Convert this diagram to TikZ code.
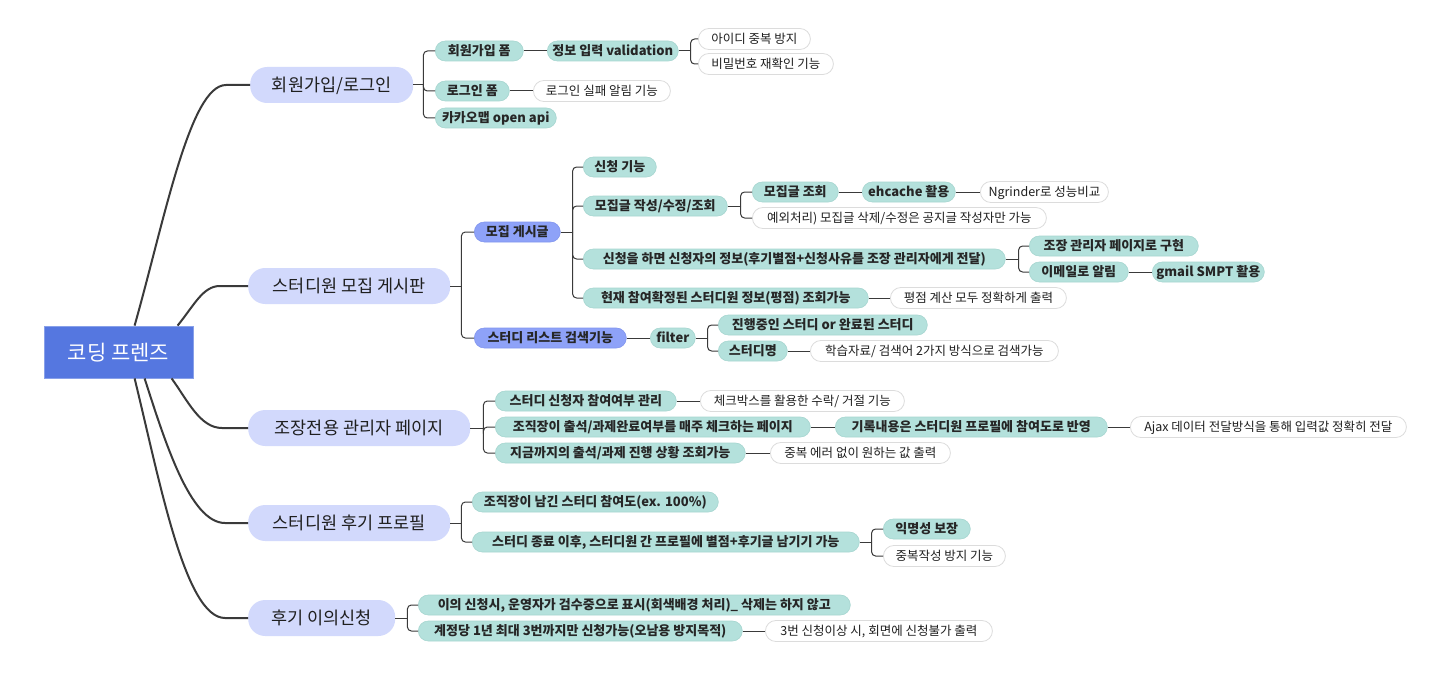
\documentclass[tikz,border=0pt]{standalone}
\usepackage{fontspec}
\setmainfont{Noto Sans CJK KR}
\usetikzlibrary{calc}
\definecolor{rootblue}{HTML}{5577E0}
\definecolor{lav}{HTML}{D2D9FC}
\definecolor{tealc}{HTML}{B4E1DC}
\definecolor{tealb}{HTML}{A6D6D0}
\definecolor{bluec}{HTML}{8EA2F8}
\definecolor{blueb}{HTML}{8296EE}
\definecolor{grayb}{HTML}{DCDCDC}
\definecolor{linec}{HTML}{3A3A3A}
\tikzset{
  base/.style={inner sep=0pt, anchor=west},
  rootbox/.style={fill=rootblue, draw=rootblue!70!white, line width=0.8pt, minimum width=149pt, minimum height=52pt, inner sep=0pt, text=white, font=\fontsize{21}{23}\selectfont, text height=18.5pt, text depth=2.5pt},
  lone/.style={base, fill=lav, rounded corners=17pt, minimum height=36pt, font=\fontsize{17.5}{19}\selectfont, text=black!88, text height=15.4pt, text depth=2.1pt},
  tnode/.style={base, fill=tealc, draw=tealb, line width=0.6pt, rounded corners=10pt, minimum height=20pt, font=\bfseries\fontsize{13}{15}\selectfont, text=black!85, text height=11.4pt, text depth=1.6pt},
  bnode/.style={tnode, fill=bluec, draw=blueb},
  wnode/.style={base, fill=white, draw=grayb, line width=0.8pt, rounded corners=10.5pt, minimum height=21pt, font=\fontsize{12.5}{14}\selectfont, text=black!88, text height=11pt, text depth=1.5pt},
  conn/.style={draw=linec, line width=1pt},
  branch/.style={draw=linec, line width=1pt, rounded corners=4pt},
  trunk/.style={draw=linec, line width=2pt},
}
\begin{document}
\begin{tikzpicture}[x=1pt,y=-1pt]
\useasboundingbox[fill=white] (0,0) rectangle (1434,682);

% root
\node[rootbox] (root) at (118.5,352) {코딩 프렌즈};

% level 1
\node[lone, minimum width=163pt] (n1) at (250,85) {회원가입/로그인};
\node[lone, minimum width=202pt] (n2) at (248,286) {스터디원 모집 게시판};
\node[lone, minimum width=222pt] (n3) at (248,428) {조장전용 관리자 페이지};
\node[lone, minimum width=202pt] (n4) at (248,523) {스터디원 후기 프로필};
\node[lone, minimum width=147pt] (n5) at (248,618) {후기 이의신청};

% group 1
\node[tnode, minimum width=88pt] (a1) at (435,51) {회원가입 폼};
\node[tnode, minimum width=74pt] (a2) at (435,91) {로그인 폼};
\node[tnode, minimum width=121pt] (a3) at (435,118) {카카오맵 open api};
\node[tnode, minimum width=131pt] (a11) at (547,51) {정보 입력 validation};
\node[wnode, minimum width=112pt] (a111) at (698,39) {아이디 중복 방지};
\node[wnode, minimum width=135pt] (a112) at (698,64) {비밀번호 재확인 기능};
\node[wnode, minimum width=137pt] (a21) at (533,91) {로그인 실패 알림 기능};

% group 2
\node[bnode, minimum width=86pt] (b1) at (474,232) {모집 게시글};
\node[bnode, minimum width=152pt] (b2) at (474,338) {스터디 리스트 검색기능};
\node[tnode, minimum width=73pt] (b11) at (583,167) {신청 기능};
\node[tnode, minimum width=144pt] (b12) at (583,206) {모집글 작성/수정/조회};
\node[tnode, minimum width=422pt] (b13) at (583,259) {신청을 하면 신청자의 정보(후기별점+신청사유를 조장 관리자에게 전달)};
\node[tnode, minimum width=285pt] (b14) at (583,298) {현재 참여확정된 스터디원 정보(평점) 조회가능};
\node[tnode, minimum width=86pt] (b121) at (752,192) {모집글 조회};
\node[wnode, minimum width=294pt] (b122) at (752,218) {예외처리) 모집글 삭제/수정은 공지글 작성자만 가능};
\node[tnode, minimum width=93pt] (b1211) at (862,192) {ehcache 활용};
\node[wnode, minimum width=128pt] (b12111) at (980,192) {Ngrinder로 성능비교};
\node[tnode, minimum width=169pt] (b131) at (1029,246) {조장 관리자 페이지로 구현};
\node[tnode, minimum width=99pt] (b132) at (1029,272) {이메일로 알림};
\node[tnode, minimum width=112pt] (b1321) at (1152,272) {gmail SMPT 활용};
\node[wnode, minimum width=176pt] (b141) at (890,298) {평점 계산 모두 정확하게 출력};
\node[tnode, minimum width=45pt] (b21) at (650,338) {filter};
\node[tnode, minimum width=209pt] (b211) at (718,325) {진행중인 스터디 or 완료된 스터디};
\node[tnode, minimum width=69pt] (b212) at (718,351) {스터디명};
\node[wnode, minimum width=248pt] (b2121) at (810,351) {학습자료/ 검색어 2가지 방식으로 검색가능};

% group 3
\node[tnode, minimum width=181pt] (c1) at (495,401) {스터디 신청자 참여여부 관리};
\node[tnode, minimum width=315pt] (c2) at (495,427) {조직장이 출석/과제완료여부를 매주 체크하는 페이지};
\node[tnode, minimum width=250pt] (c3) at (495,453) {지금까지의 출석/과제 진행 상황 조회가능};
\node[wnode, minimum width=204pt] (c11) at (700,401) {체크박스를 활용한 수락/ 거절 기능};
\node[tnode, minimum width=272pt] (c21) at (835,427) {기록내용은 스터디원 프로필에 참여도로 반영};
\node[wnode, minimum width=276pt] (c211) at (1130,427) {Ajax 데이터 전달방식을 통해 입력값 정확히 전달};
\node[wnode, minimum width=180pt] (c31) at (770,453) {중복 에러 없이 원하는 값 출력};

% group 4
\node[tnode, minimum width=246pt] (d1) at (472,502) {조직장이 남긴 스터디 참여도(ex. 100\%)};
\node[tnode, minimum width=387pt] (d2) at (472,542) {스터디 종료 이후, 스터디원 간 프로필에 별점+후기글 남기기 가능};
\node[tnode, minimum width=87pt] (d21) at (883,529) {익명성 보장};
\node[wnode, minimum width=122pt] (d22) at (883,556) {중복작성 방지 기능};

% group 5
\node[tnode, minimum width=432pt] (e1) at (418,605) {이의 신청시, 운영자가 검수중으로 표시(회색배경 처리)\_ 삭제는 하지 않고};
\node[tnode, minimum width=324pt] (e2) at (418,631) {계정당 1년 최대 3번까지만 신청가능(오남용 방지목적)};
\node[wnode, minimum width=227pt] (e21) at (765,631) {3번 신청이상 시, 회면에 신청불가 출력};

% trunk curves
\draw[trunk] ($(root.north west)+(91,0)$) .. controls ($(root.north west)+(121,-106)$) and ($(n1.west)+(-60,0)$) .. ($(n1.west)+(-24,0)$) -- (n1.west);
\draw[trunk] ($(root.north west)+(134,0)$) .. controls ($(root.north west)+(151,-21)$) and ($(n2.west)+(-45,0)$) .. ($(n2.west)+(-28,0)$) -- (n2.west);
\draw[trunk] ($(root.south west)+(128,0)$) .. controls ($(root.south west)+(144,22)$) and ($(n3.west)+(-48,0)$) .. ($(n3.west)+(-26,0)$) -- (n3.west);
\draw[trunk] ($(root.south west)+(101,0)$) .. controls ($(root.south west)+(121,62)$) and ($(n4.west)+(-58,0)$) .. ($(n4.west)+(-23,0)$) -- (n4.west);
\draw[trunk] ($(root.south west)+(91,0)$) .. controls ($(root.south west)+(116,102)$) and ($(n5.west)+(-63,0)$) .. ($(n5.west)+(-23,0)$) -- (n5.west);

% group 1 connectors
\draw[conn] (n1.east) -- ++(10,0) coordinate (j1);
\draw[branch] (j1) |- (a1.west);
\draw[branch] (j1) |- (a2.west);
\draw[branch] (j1) |- (a3.west);
\draw[conn] (a1.east) -- (a11.west);
\draw[conn] (a11.east) -- ++(12,0) coordinate (j11);
\draw[branch] (j11) |- (a111.west);
\draw[branch] (j11) |- (a112.west);
\draw[conn] (a2.east) -- (a21.west);

% group 2 connectors
\draw[conn] (n2.east) -- ++(11,0) coordinate (j2);
\draw[branch] (j2) |- (b1.west);
\draw[branch] (j2) |- (b2.west);
\draw[conn] (b1.east) -- ++(12,0) coordinate (jb1);
\draw[branch] (jb1) |- (b11.west);
\draw[branch] (jb1) |- (b12.west);
\draw[branch] (jb1) |- (b13.west);
\draw[branch] (jb1) |- (b14.west);
\draw[conn] (b12.east) -- ++(13,0) coordinate (jb12);
\draw[branch] (jb12) |- (b121.west);
\draw[branch] (jb12) |- (b122.west);
\draw[conn] (b121.east) -- (b1211.west);
\draw[conn] (b1211.east) -- (b12111.west);
\draw[conn] (b13.east) -- ++(13,0) coordinate (jb13);
\draw[branch] (jb13) |- (b131.west);
\draw[branch] (jb13) |- (b132.west);
\draw[conn] (b132.east) -- (b1321.west);
\draw[conn] (b14.east) -- (b141.west);
\draw[conn] (b2.east) -- (b21.west);
\draw[conn] (b21.east) -- ++(12,0) coordinate (jb21);
\draw[branch] (jb21) |- (b211.west);
\draw[branch] (jb21) |- (b212.west);
\draw[conn] (b212.east) -- (b2121.west);

% group 3 connectors
\draw[conn] (n3.east) -- ++(13,0) coordinate (j3);
\draw[branch] (j3) |- (c1.west);
\draw[branch] (j3) |- (c2.west);
\draw[branch] (j3) |- (c3.west);
\draw[conn] (c1.east) -- (c11.west);
\draw[conn] (c2.east) -- (c21.west);
\draw[conn] (c21.east) -- (c211.west);
\draw[conn] (c3.east) -- (c31.west);

% group 4 connectors
\draw[conn] (n4.east) -- ++(11,0) coordinate (j4);
\draw[branch] (j4) |- (d1.west);
\draw[branch] (j4) |- (d2.west);
\draw[conn] (d2.east) -- ++(12,0) coordinate (jd2);
\draw[branch] (jd2) |- (d21.west);
\draw[branch] (jd2) |- (d22.west);

% group 5 connectors
\draw[conn] (n5.east) -- ++(12,0) coordinate (j5);
\draw[branch] (j5) |- (e1.west);
\draw[branch] (j5) |- (e2.west);
\draw[conn] (e2.east) -- (e21.west);
\end{tikzpicture}
\end{document}
